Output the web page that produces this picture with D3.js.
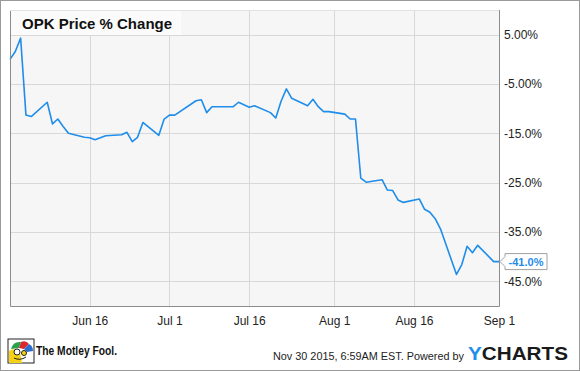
<!DOCTYPE html>
<html>
<head>
<meta charset="utf-8">
<script src="https://cdn.jsdelivr.net/npm/d3@7"></script>
<style>
  body { margin: 0; background: #fff; }
  svg { display: block; font-family: "Liberation Sans", Arial, sans-serif; }
</style>
</head>
<body>
<div id="vis_1"></div>
<script>
// OPK daily % change since Jun 1 2015
var dates = ["2015-06-01","2015-06-02","2015-06-03","2015-06-04","2015-06-05","2015-06-08","2015-06-09","2015-06-10","2015-06-11","2015-06-12",
  "2015-06-15","2015-06-16","2015-06-17","2015-06-18","2015-06-19","2015-06-22","2015-06-23","2015-06-24","2015-06-25","2015-06-26",
  "2015-06-29","2015-06-30","2015-07-01","2015-07-02","2015-07-06","2015-07-07","2015-07-08","2015-07-09","2015-07-10","2015-07-13",
  "2015-07-14","2015-07-15","2015-07-16","2015-07-17","2015-07-20","2015-07-21","2015-07-22","2015-07-23","2015-07-24","2015-07-27",
  "2015-07-28","2015-07-29","2015-07-30","2015-07-31","2015-08-03","2015-08-04","2015-08-05","2015-08-06","2015-08-07","2015-08-10",
  "2015-08-11","2015-08-12","2015-08-13","2015-08-14","2015-08-17","2015-08-18","2015-08-19","2015-08-20","2015-08-21","2015-08-24",
  "2015-08-25","2015-08-26","2015-08-27","2015-08-28","2015-08-31","2015-09-01"];
var values = [0.0, 1.6, 4.3, -11.3, -11.6, -8.7, -13.1, -12.1, -13.6, -15.0,
  -15.8, -15.9, -16.3, -15.9, -15.5, -15.3, -14.8, -16.7, -15.8, -12.8,
  -15.4, -12.1, -11.3, -11.3, -8.4, -8.2, -10.8, -9.6, -9.6, -9.6,
  -8.7, -9.2, -9.7, -9.4, -10.8, -11.9, -8.5, -6.0, -7.9, -9.4,
  -8.1, -9.6, -10.6, -10.6, -11.1, -12.1, -12.1, -24.1, -24.9, -24.4,
  -26.5, -26.6, -28.5, -29.0, -28.3, -30.4, -31.0, -32.3, -34.4, -43.6,
  -41.6, -37.9, -39.2, -37.7, -41.0, -41.0];

var yTicks = [5, -5, -15, -25, -35, -45];
var yTickLabels = ["5.00%", "-5.00%", "-15.0%", "-25.0%", "-35.0%", "-45.0%"];
var xTicks = ["2015-06-16", "2015-07-01", "2015-07-16", "2015-08-01", "2015-08-16", "2015-09-01"];
var lastLabel = "-41.0%";

var W = 580, H = 371;
var margin = {top: 10, right: 81, bottom: 65, left: 10},
    width = W - margin.left - margin.right,
    height = H - margin.top - margin.bottom;

var parse = d3.timeParse("%Y-%m-%d");
var data = dates.map(function (d, i) { return {date: parse(d), value: values[i]}; });

var svg = d3.select("#vis_1").append("svg")
    .attr("width", W)
    .attr("height", H);

// outer frame
svg.append("rect")
    .attr("x", 0.5).attr("y", 0.5)
    .attr("width", W - 1).attr("height", H - 1)
    .attr("fill", "#fff").attr("stroke", "#9a9a9a");

var g = svg.append("g")
    .attr("transform", "translate(" + margin.left + "," + margin.top + ")");

var x = d3.scaleTime()
    .domain([parse("2015-06-01"), parse("2015-09-01")])
    .range([0, width]);
var y = d3.scaleLinear()
    .domain([-50, 10])
    .range([height, 0]);

g.append("rect")
    .attr("width", width).attr("height", height)
    .attr("fill", "#f6f6f6");

// grid
g.append("g").selectAll("line")
    .data(yTicks).enter().append("line")
    .attr("x1", 0).attr("x2", width)
    .attr("y1", function (d) { return Math.round(y(d)) + 0.5; })
    .attr("y2", function (d) { return Math.round(y(d)) + 0.5; })
    .attr("stroke", "#d8d8d8");
g.append("g").selectAll("line")
    .data(xTicks.slice(0, -1)).enter().append("line")
    .attr("x1", function (d) { return Math.round(x(parse(d))) + 0.5; })
    .attr("x2", function (d) { return Math.round(x(parse(d))) + 0.5; })
    .attr("y1", 0).attr("y2", height)
    .attr("stroke", "#d8d8d8");

// title
g.append("rect")
    .attr("x", 0).attr("y", 0).attr("width", 171).attr("height", 25)
    .attr("fill", "#fbfbfb");
g.append("text")
    .attr("x", 12).attr("y", 19)
    .style("font-size", "15px").style("font-weight", "bold")
    .attr("fill", "#111")
    .text("OPK Price % Change");

// line
var line = d3.line()
    .x(function (d) { return x(d.date); })
    .y(function (d) { return y(d.value); });
g.append("path")
    .datum(data)
    .attr("d", line)
    .attr("fill", "none")
    .attr("stroke", "#1f8dea")
    .attr("stroke-width", 1.6)
    .attr("stroke-linejoin", "round");

// plot frame
g.append("path")
    .attr("d", "M0.5,0 V" + (height + 0.5) + " H" + (width + 0.5) + " V0")
    .attr("fill", "none").attr("stroke", "#8c8c8c");
g.append("line")
    .attr("x1", 0).attr("x2", width).attr("y1", 0.5).attr("y2", 0.5)
    .attr("stroke", "#e2e2e2");

// y axis labels (right)
var yAxis = d3.axisRight(y)
    .tickValues(yTicks)
    .tickSize(0)
    .tickPadding(5)
    .tickFormat(function (d, i) { return yTickLabels[i]; });
g.append("g")
    .attr("transform", "translate(" + width + ",0)")
    .call(yAxis)
    .call(function (s) {
        s.select(".domain").remove();
        s.selectAll("text").style("font-size", "12px").attr("fill", "#222")
            .style("font-family", "Liberation Sans, Arial, sans-serif");
    });

// x axis labels
var xAxis = d3.axisBottom(x)
    .tickValues(xTicks.map(parse))
    .tickSize(0)
    .tickPadding(10)
    .tickFormat(d3.timeFormat("%b %-d"));
g.append("g")
    .attr("transform", "translate(0," + height + ")")
    .call(xAxis)
    .call(function (s) {
        s.select(".domain").remove();
        s.selectAll("text").style("font-size", "12px").attr("fill", "#222")
            .style("font-family", "Liberation Sans, Arial, sans-serif");
    });

// last value flag
var last = data[data.length - 1];
var ly = y(last.value), lx = width + 1;
g.append("path")
    .attr("d", "M" + lx + "," + ly + " L" + (lx + 5) + "," + (ly - 5) + " V" + (ly - 8) +
        " H" + (lx + 47) + " V" + (ly + 8) + " H" + (lx + 5) + " V" + (ly + 5) + " Z")
    .attr("fill", "#fff").attr("stroke", "#a0a0a0");
g.append("text")
    .attr("x", lx + 26).attr("y", ly + 4)
    .attr("text-anchor", "middle")
    .style("font-size", "11px").style("font-weight", "bold")
    .attr("fill", "#1f8dea")
    .text(lastLabel);

// footer: Motley Fool logo
var logo = svg.append("g").attr("transform", "translate(8,339)");
logo.append("rect").attr("width", 26).attr("height", 24).attr("fill", "#fff").attr("stroke", "#222");
logo.append("path").attr("d", "M1,24 L1,12 Q6,8 12,13 L14,24 Z").attr("fill", "#f5d218");
logo.append("path").attr("d", "M3,10 Q5,2 13,3 L11,9 Z").attr("fill", "#2aa04a");
logo.append("path").attr("d", "M11,9 L13,3 Q18,1 21,5 L16,10 Z").attr("fill", "#d9282f");
logo.append("path").attr("d", "M16,10 L21,5 Q25,7 25,12 L19,13 Z").attr("fill", "#2a6fd0");
logo.append("circle").attr("cx", 9).attr("cy", 13).attr("r", 3).attr("fill", "#fff").attr("stroke", "#222");
logo.append("circle").attr("cx", 16).attr("cy", 14).attr("r", 2.5).attr("fill", "#f5d218").attr("stroke", "#222");
logo.append("path").attr("d", "M6,19 Q12,22 18,18").attr("fill", "none").attr("stroke", "#222");
svg.append("text")
    .attr("x", 36).attr("y", 355)
    .attr("textLength", 81).attr("lengthAdjust", "spacingAndGlyphs")
    .style("font-size", "13px").style("font-weight", "bold")
    .attr("fill", "#111")
    .text("The Motley Fool.");

// footer: timestamp + ycharts
svg.append("text")
    .attr("x", 273).attr("y", 360)
    .attr("textLength", 191).attr("lengthAdjust", "spacingAndGlyphs")
    .style("font-size", "11px")
    .attr("fill", "#222")
    .text("Nov 30 2015, 6:59AM EST.  Powered by");
var yc = svg.append("text")
    .attr("x", 468).attr("y", 360)
    .attr("textLength", 100).attr("lengthAdjust", "spacingAndGlyphs")
    .style("font-size", "18px").style("font-weight", "bold");
yc.append("tspan").attr("fill", "#1e90e8").text("Y");
yc.append("tspan").attr("fill", "#1a1a1a").text("CHARTS");
</script>
</body>
</html>
